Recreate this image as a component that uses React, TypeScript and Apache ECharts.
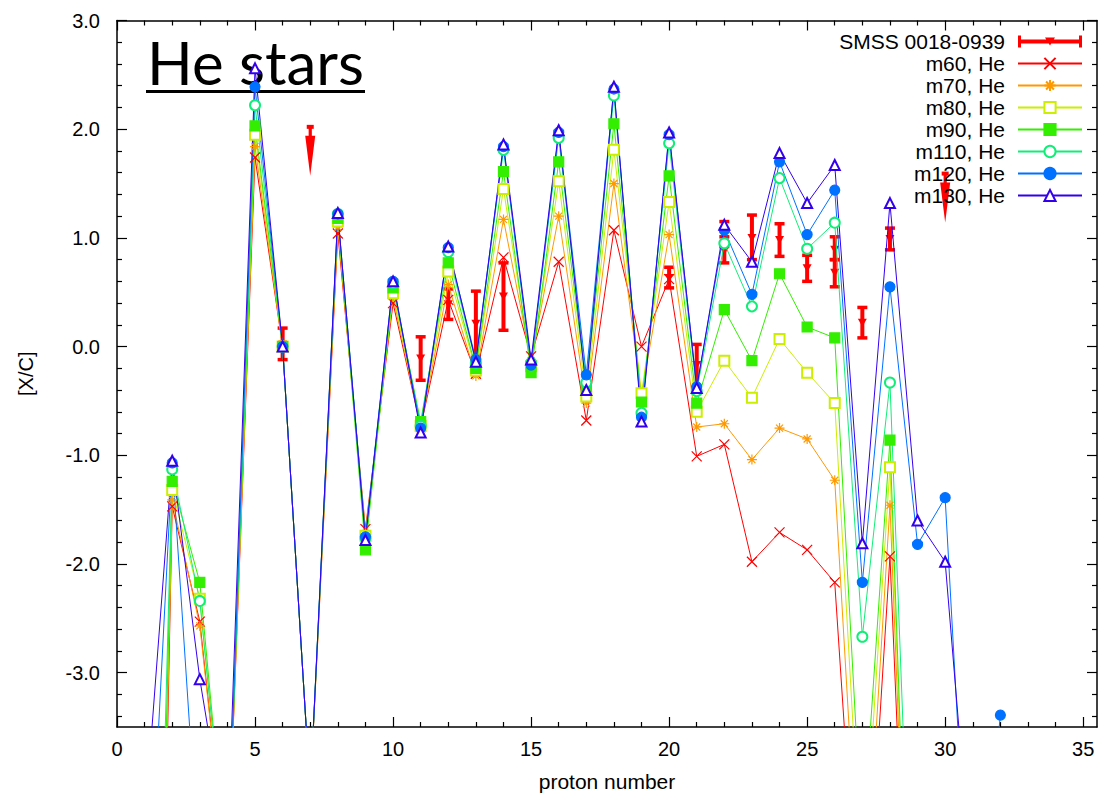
import React, { useEffect, useRef } from "react";
import * as echarts from "echarts";

// Proton number (Z) of each model abundance point
const protonNumbers = [
  1, 2, 3, 4, 5, 6, 7, 8, 9, 10, 11, 12, 13, 14, 15, 16, 17, 18, 19, 20, 21, 22,
  23, 24, 25, 26, 27, 28, 29, 30, 31, 32,
];

// Model yields [X/C] for He-burning stars, by initial mass
const m60He = [
  -14, -1.47, -2.53, -4.9, 1.74, 0, -4.1, 1.04, -1.68, 0.4, -0.74, 0.43, -0.25, 0.82,
  -0.09, 0.78, -0.68, 1.07, 0.0, 0.62, -1.01, -0.9, -1.98, -1.71, -1.87, -2.17, -6.0,
  -1.93, -8,
];
const m70He = [
  -13, -1.41, -2.57, -4.9, 1.84, 0, -4.1, 1.1, -1.72, 0.46, -0.74, 0.57, -0.27, 1.17,
  -0.13, 1.2, -0.52, 1.5, -0.45, 1.03, -0.74, -0.71, -1.04, -0.75, -0.85, -1.23, -5.6,
  -1.46, -8,
];
const m80He = [
  -12, -1.32, -2.32, -4.9, 1.95, 0, -4.1, 1.15, -1.74, 0.49, -0.73, 0.69, -0.22, 1.45,
  -0.18, 1.52, -0.46, 1.81, -0.43, 1.33, -0.6, -0.13, -0.47, 0.07, -0.24, -0.52, -5.0,
  -1.11, -8,
];
const m90He = [
  -12, -1.24, -2.17, -4.9, 2.03, 0, -4.1, 1.18, -1.87, 0.54, -0.69, 0.77, -0.2, 1.61,
  -0.24, 1.7, -0.37, 2.05, -0.51, 1.57, -0.52, 0.34, -0.13, 0.67, 0.18, 0.08, -4.6,
  -0.86, -8,
];
const m110He = [
  -10.6, -1.13, -2.34, -4.9, 2.22, 0, -4.1, 1.22, -1.76, 0.58, -0.73, 0.87, -0.15, 1.81,
  -0.15, 1.92, -0.33, 2.31, -0.61, 1.87, -0.41, 0.95, 0.37, 1.55, 0.9, 1.14, -2.67,
  -0.33, -7,
];
const m120He = [
  -6.0, -1.07, -4.92, -4.9, 2.39, 0, -4.1, 1.22, -1.75, 0.6, -0.75, 0.91, -0.12, 1.84,
  -0.17, 1.97, -0.26, 2.37, -0.65, 1.95, -0.37, 1.07, 0.48, 1.7, 1.03, 1.44, -2.17,
  0.55, -1.82, -1.39, -6.0, -3.39,
];
const m130He = [
  -4.4, -1.05, -3.06, -4.6, 2.56, 0, -4.1, 1.23, -1.78, 0.6, -0.79, 0.92, -0.14, 1.86,
  -0.12, 1.99, -0.4, 2.39, -0.69, 1.97, -0.38, 1.12, 0.78, 1.78, 1.32, 1.67, -1.81,
  1.32, -1.6, -1.98, -5.05,
];

// SMSS 0018-0939 measured abundances with error bars
const smssZ = [6, 11, 12, 13, 14, 20, 21, 22, 22, 23, 24, 25, 26, 26, 27, 28];
const smssValue = [0.02, -0.11, 0.39, 0.21, 0.46, 0.63, -0.17, 1.03, 0.88, 1.0, 0.98, 0.72, 0.89, 0.68, 0.22, 0.99];
const smssLow = [-0.12, -0.31, 0.25, -0.09, 0.15, 0.54, -0.37, 0.92, 0.77, 0.8, 0.83, 0.6, 0.8, 0.55, 0.08, 0.89];
const smssHigh = [0.17, 0.09, 0.53, 0.51, 0.77, 0.73, 0.02, 1.15, 1.01, 1.21, 1.13, 0.84, 1.01, 0.8, 0.36, 1.09];
// SMSS 0018-0939 upper limits
const smssLimitZ = [7, 30];
const smssLimitValue = [2.04, 1.61];

// Axis ticks
const xMajorTicks = [0, 5, 10, 15, 20, 25, 30, 35];
const yMajorTicks = [-3, -2, -1, 0, 1, 2, 3];

const modelNames = ["m60, He", "m70, He", "m80, He", "m90, He", "m110, He", "m120, He", "m130, He"];
const modelValues = [m60He, m70He, m80He, m90He, m110He, m120He, m130He];
const modelColors = ["#ff0000", "#ff9900", "#ccee00", "#33ee00", "#11ee77", "#0070ff", "#3300ee"];
const crossPath = "path://M0,0L10,10M10,0L0,10";
const starPath = "path://M0,5L10,5M5,0L5,10M1.5,1.5L8.5,8.5M8.5,1.5L1.5,8.5";
const modelSymbols = [crossPath, starPath, "emptyRect", "rect", "emptyCircle", "circle", "emptyTriangle"];
const smssName = "SMSS 0018-0939";
const RED = "#ff0000";
const FONT = "'Liberation Sans', Arial, Helvetica, sans-serif";

const xMinorTicks: number[] = [];
for (let v = 1; v < 35; v++) if (v % 5 !== 0) xMinorTicks.push(v);
const yMinorTicks: number[] = [];
for (let k = -17; k <= 14; k++) if (k % 5 !== 0) yMinorTicks.push(Math.round(k * 2) / 10);

function tickAxis(position: string, values: number[], length: number, withLine: boolean, min: number, max: number) {
  return {
    type: "value",
    position,
    min,
    max,
    axisLine: { show: withLine, onZero: false, lineStyle: { color: "#000", width: 1.5 } },
    axisTick: { show: true, inside: true, length, customValues: values, lineStyle: { color: "#000", width: 1.2 } },
    axisLabel: { show: false },
    splitLine: { show: false },
  };
}

export default function App() {
  const ref = useRef<HTMLDivElement>(null);

  useEffect(() => {
    if (!ref.current) return;
    const chart = echarts.init(ref.current, null, { renderer: "svg" });

    const lineSeries = modelNames.map((name, i) => ({
      name,
      type: "line",
      xAxisIndex: 0,
      yAxisIndex: 0,
      data: modelValues[i].map((v, j) => [protonNumbers[j], v]),
      symbol: modelSymbols[i],
      symbolSize: 10,
      showAllSymbol: true,
      clip: true,
      lineStyle: { color: modelColors[i], width: 1 },
      itemStyle: { color: modelColors[i], borderColor: modelColors[i], borderWidth: 1.2 },
      emphasis: { disabled: true },
    }));

    const smssData = smssZ
      .map((z, i) => [z, smssValue[i], smssLow[i], smssHigh[i], 0])
      .concat(smssLimitZ.map((z, i) => [z, smssLimitValue[i], smssLimitValue[i], smssLimitValue[i], 1]));

    const smssSeries = {
      name: smssName,
      type: "custom",
      xAxisIndex: 0,
      yAxisIndex: 0,
      dimensions: ["z", "value", "low", "high", "limit"],
      encode: { x: 0, y: 1 },
      itemStyle: { color: RED },
      data: smssData,
      renderItem: (_params: any, api: any) => {
        const z = api.value(0);
        const c = api.coord([z, api.value(1)]);
        const x = c[0];
        const y = c[1];
        if (api.value(4)) {
          // upper limit: short bar with a downward arrow head
          return {
            type: "group",
            children: [
              { type: "rect", shape: { x: x - 3.5, y, width: 7, height: 4 }, style: { fill: RED } },
              { type: "rect", shape: { x: x - 1.6, y: y + 3, width: 3.2, height: 9 }, style: { fill: RED } },
              { type: "polygon", shape: { points: [[x - 5, y + 11], [x + 5, y + 11], [x, y + 51]] }, style: { fill: RED } },
            ],
          };
        }
        const top = api.coord([z, api.value(3)])[1];
        const bot = api.coord([z, api.value(2)])[1];
        return {
          type: "group",
          children: [
            { type: "line", shape: { x1: x, y1: top, x2: x, y2: bot }, style: { stroke: RED, lineWidth: 4 } },
            { type: "line", shape: { x1: x - 5, y1: top, x2: x + 5, y2: top }, style: { stroke: RED, lineWidth: 3.5 } },
            { type: "line", shape: { x1: x - 5, y1: bot, x2: x + 5, y2: bot }, style: { stroke: RED, lineWidth: 3.5 } },
            { type: "polygon", shape: { points: [[x - 4.5, y - 4], [x + 4.5, y - 4], [x, y + 4]] }, style: { fill: RED } },
          ],
        };
      },
    };

    const option = {
      animation: false,
      backgroundColor: "#fff",
      grid: { left: 117, right: 13, top: 20.5, bottom: 70, containLabel: false },
      xAxis: [
        {
          type: "value",
          position: "bottom",
          min: 0,
          max: 35.5,
          name: "proton number",
          nameLocation: "middle",
          nameGap: 44,
          nameTextStyle: { fontSize: 21, fontFamily: FONT, color: "#000" },
          axisLine: { show: true, onZero: false, lineStyle: { color: "#000", width: 1.5 } },
          axisTick: { show: true, inside: true, length: 10, customValues: xMajorTicks, lineStyle: { color: "#000", width: 1.2 } },
          axisLabel: { show: true, customValues: xMajorTicks, margin: 12, fontSize: 20, fontFamily: FONT, color: "#000", formatter: (v: number) => String(v) },
          splitLine: { show: false },
        },
        tickAxis("bottom", xMinorTicks, 5, false, 0, 35.5),
        tickAxis("top", xMajorTicks, 10, true, 0, 35.5),
        tickAxis("top", xMinorTicks, 5, false, 0, 35.5),
      ],
      yAxis: [
        {
          type: "value",
          position: "left",
          min: -3.5,
          max: 3,
          name: "[X/C]",
          nameLocation: "middle",
          nameGap: 81,
          nameTextStyle: { fontSize: 20, fontFamily: FONT, color: "#000" },
          axisLine: { show: true, onZero: false, lineStyle: { color: "#000", width: 1.5 } },
          axisTick: { show: true, inside: true, length: 10, customValues: yMajorTicks, lineStyle: { color: "#000", width: 1.2 } },
          axisLabel: { show: true, customValues: yMajorTicks, margin: 17, fontSize: 20, fontFamily: FONT, color: "#000", formatter: (v: number) => v.toFixed(1) },
          splitLine: { show: false },
        },
        tickAxis("left", yMinorTicks, 5, false, -3.5, 3),
        tickAxis("right", yMajorTicks, 10, true, -3.5, 3),
        tickAxis("right", yMinorTicks, 5, false, -3.5, 3),
      ],
      legend: {
        orient: "vertical",
        right: 27,
        top: 31,
        padding: 0,
        align: "right",
        itemWidth: 64,
        itemHeight: 14,
        itemGap: 1,
        selectedMode: false,
        textStyle: { fontSize: 21, fontFamily: FONT, color: "#000", padding: [0, 8, 0, 0] },
        data: [
          { name: smssName, icon: "path://M0,5L64,5L64,9L0,9Z M0,1L3,1L3,13L0,13Z M61,1L64,1L64,13L61,13Z M27,3L37,3L32,11Z" },
          ...modelNames,
        ],
      },
      graphic: [
        { type: "text", x: 147, y: 32, style: { text: "He stars", font: "60px Lato, 'Open Sans', sans-serif", fill: "#000" } },
        { type: "line", shape: { x1: 146, y1: 91.5, x2: 365, y2: 91.5 }, style: { stroke: "#000", lineWidth: 3 } },
      ],
      series: [smssSeries, ...lineSeries],
    };

    chart.setOption(option as any);
    return () => chart.dispose();
  }, []);

  return (
    <div
      ref={ref}
      style={{ position: "fixed", left: 0, top: 0, width: 1110, height: 797, background: "#fff" }}
    />
  );
}
